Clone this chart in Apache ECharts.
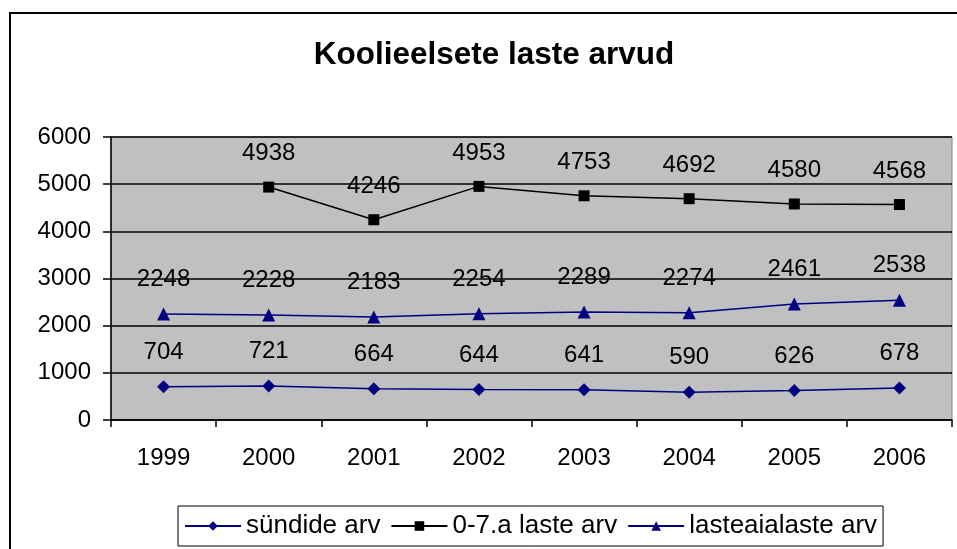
<!DOCTYPE html>
<html>
<head>
<meta charset="utf-8">
<script src="https://cdn.jsdelivr.net/npm/echarts@6/dist/echarts.min.js"></script>
<style>
  html, body { margin: 0; padding: 0; background: #fff; }
  #chart { width: 957px; height: 549px; }
</style>
</head>
<body>
<div id="chart"></div>
<script>
var years = ["1999", "2000", "2001", "2002", "2003", "2004", "2005", "2006"];
var sundideArv = [704, 721, 664, 644, 641, 590, 626, 678];
var lasteArv07 = [null, 4938, 4246, 4953, 4753, 4692, 4580, 4568];
var lasteaialasteArv = [2248, 2228, 2183, 2254, 2289, 2274, 2461, 2538];

var font = "Liberation Sans, Arial, sans-serif";
var chart = echarts.init(document.getElementById("chart"));

function labelStyle() {
  return {
    show: true,
    position: "top",
    distance: 16,
    color: "#000",
    fontSize: 24,
    fontFamily: font
  };
}

chart.setOption({
  animation: false,
  textStyle: { fontFamily: font },
  title: {
    text: "Koolieelsete laste arvud",
    left: 489,
    top: 34,
    textAlign: "center",
    textStyle: { fontSize: 31.5, fontWeight: "bold", color: "#000", fontFamily: font }
  },
  graphic: [
    {
      type: "polyline",
      shape: { points: [[10, 549], [10, 13], [957, 13]] },
      style: { stroke: "#000", lineWidth: 2, fill: null }
    }
  ],
  grid: {
    left: 111,
    right: 5,
    top: 137,
    bottom: 129,
    show: true,
    backgroundColor: "#c0c0c0",
    borderColor: "#808080",
    borderWidth: 1
  },
  legend: {
    bottom: 3,
    left: 178,
    itemWidth: 56,
    itemHeight: 12,
    itemGap: 10,
    padding: [7, 6, 7, 6],
    borderColor: "#000",
    borderWidth: 1,
    backgroundColor: "#fff",
    textStyle: { fontSize: 26, color: "#000", fontFamily: font },
    data: ["sündide arv", "0-7.a laste arv", "lasteaialaste arv"]
  },
  xAxis: {
    type: "category",
    data: years,
    boundaryGap: true,
    axisLine: { lineStyle: { color: "#000", width: 1.5 } },
    axisTick: { show: true, length: 7, lineStyle: { color: "#000", width: 1.5 } },
    axisLabel: { color: "#000", fontSize: 24, margin: 26, fontFamily: font },
    splitLine: { show: false }
  },
  yAxis: {
    type: "value",
    min: 0,
    max: 6000,
    interval: 1000,
    axisLine: { show: true, lineStyle: { color: "#000", width: 1.5 } },
    axisTick: { show: true, length: 8, lineStyle: { color: "#000", width: 1.5 } },
    axisLabel: {
      color: "#000",
      fontSize: 24,
      margin: 20,
      fontFamily: font,
      formatter: function (v) { return String(v); }
    },
    splitLine: { show: true, lineStyle: { color: "#000", width: 1.5 } }
  },
  series: [
    {
      name: "sündide arv",
      type: "line",
      data: sundideArv,
      symbol: "diamond",
      symbolSize: 13,
      itemStyle: { color: "#000080" },
      lineStyle: { color: "#000080", width: 1.5 },
      label: labelStyle()
    },
    {
      name: "0-7.a laste arv",
      type: "line",
      data: lasteArv07,
      symbol: "rect",
      symbolSize: 11,
      itemStyle: { color: "#000" },
      lineStyle: { color: "#000", width: 1.5 },
      label: labelStyle()
    },
    {
      name: "lasteaialaste arv",
      type: "line",
      data: lasteaialasteArv,
      symbol: "triangle",
      symbolSize: 13,
      itemStyle: { color: "#000080" },
      lineStyle: { color: "#000080", width: 1.5 },
      label: labelStyle()
    }
  ]
});
</script>
</body>
</html>
